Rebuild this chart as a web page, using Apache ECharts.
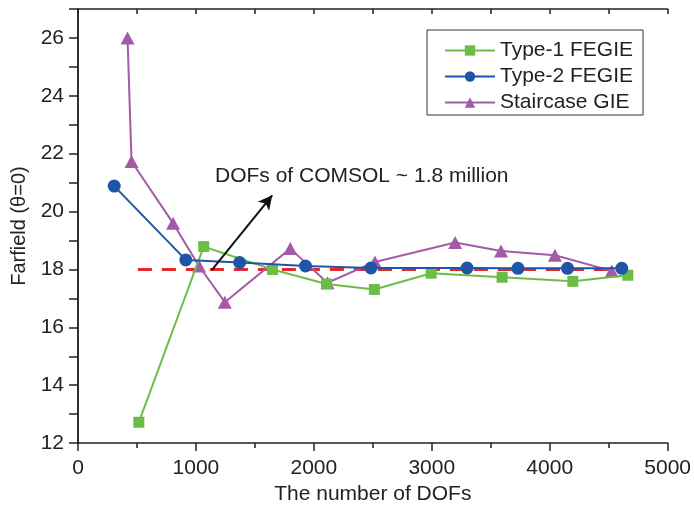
<!DOCTYPE html>
<html>
<head>
<meta charset="utf-8">
<script src="https://cdn.jsdelivr.net/npm/echarts@6/dist/echarts.min.js"></script>
<style>
  html, body { margin: 0; padding: 0; background: #fff; }
  #main { width: 694px; height: 510px; }
</style>
</head>
<body>
<div id="main"></div>
<script>
// Type-1 FEGIE
var type1X = [516, 1066, 1650, 2107, 2513, 2995, 3596, 4196, 4662];
var type1Y = [12.72, 18.79, 18.0, 17.5, 17.31, 17.87, 17.73, 17.59, 17.8];
// Type-2 FEGIE
var type2X = [307, 914, 1371, 1929, 2484, 3299, 3731, 4151, 4611];
var type2Y = [20.88, 18.33, 18.24, 18.12, 18.05, 18.05, 18.04, 18.04, 18.04];
// Staircase GIE
var stairX = [420, 454, 806, 1026, 1245, 1800, 2115, 2518, 3198, 3587, 4044, 4526];
var stairY = [26.0, 21.73, 19.6, 18.12, 16.87, 18.72, 17.54, 18.26, 18.93, 18.64, 18.49, 17.95];
// COMSOL reference
var refX = [508, 4645];
var refY = [18, 18];
var arrowFrom = [1134, 17.98];
var arrowTo = [1647, 20.56];

function pairs(xs, ys) {
    return xs.map(function (x, i) { return [x, ys[i]]; });
}

var font = 'Liberation Sans, Arial, sans-serif';
var ink = '#222';
var myChart = echarts.init(document.getElementById('main'));

myChart.setOption({
    animation: false,
    textStyle: { fontFamily: font },
    grid: { left: 78, right: 24, top: 9, bottom: 66 },
    legend: {
        orient: 'vertical',
        left: 427,
        top: 30,
        itemWidth: 50,
        itemHeight: 13,
        itemGap: 5,
        padding: [10, 10, 2, 17],
        borderColor: '#333',
        borderWidth: 1,
        textStyle: { fontSize: 21, color: ink, fontFamily: font },
        data: ['Type-1 FEGIE', 'Type-2 FEGIE', 'Staircase GIE']
    },
    xAxis: [{
        type: 'value',
        min: 0, max: 5000, interval: 1000,
        name: 'The number of DOFs',
        nameLocation: 'middle',
        nameGap: 37,
        nameTextStyle: { fontSize: 21, color: ink },
        axisLine: { lineStyle: { color: ink, width: 1.5 } },
        axisTick: { inside: false, length: 8, lineStyle: { color: ink, width: 1.5 } },
        minorTick: { show: true, splitNumber: 2, length: 5, lineStyle: { color: ink, width: 1.5 } },
        axisLabel: { fontSize: 21, color: ink, margin: 15, formatter: function (v) { return String(v); } },
        splitLine: { show: false }
    }, {
        type: 'value',
        position: 'top',
        min: 0, max: 5000, interval: 1000,
        axisLine: { lineStyle: { color: ink, width: 1.5 } },
        axisTick: { inside: true, length: 5, lineStyle: { color: ink, width: 1.5 } },
        minorTick: { show: true, splitNumber: 2, length: 5, lineStyle: { color: ink, width: 1.5 } },
        axisLabel: { show: false },
        splitLine: { show: false }
    }],
    yAxis: [{
        type: 'value',
        min: 12, max: 27, interval: 2,
        name: 'Farfield (\u03b8=0)',
        nameLocation: 'middle',
        nameGap: 45,
        nameTextStyle: { fontSize: 20, color: ink },
        axisLine: { lineStyle: { color: ink, width: 1.5 } },
        axisTick: { inside: false, length: 9, lineStyle: { color: ink, width: 1.5 } },
        minorTick: { show: true, splitNumber: 2, length: 5, lineStyle: { color: ink, width: 1.5 } },
        axisLabel: { fontSize: 21, color: ink, margin: 14, showMaxLabel: false },
        splitLine: { show: false }
    }, {
        type: 'value',
        position: 'right',
        min: 12, max: 27, interval: 1,
        axisLine: { lineStyle: { color: ink, width: 1.5 } },
        axisTick: { inside: true, length: 9, lineStyle: { color: ink, width: 1.5 } },
        axisLabel: { show: false },
        splitLine: { show: false }
    }],
    graphic: [{
        type: 'text',
        left: 215,
        top: 166,
        style: { text: 'DOFs of COMSOL ~ 1.8 million', fontSize: 21, fill: ink, fontFamily: font }
    }],
    series: [{
        name: 'COMSOL',
        type: 'line',
        z: 1,
        symbol: 'none',
        data: pairs(refX, refY),
        lineStyle: { color: '#e8262a', width: 3, type: [14, 10] }
    }, {
        name: 'arrow',
        type: 'line',
        z: 5,
        symbol: 'none',
        data: [],
        markLine: {
            silent: true,
            symbol: ['none', 'arrow'],
            symbolSize: [11, 14],
            label: { show: false },
            lineStyle: { color: '#111', width: 2, type: 'solid' },
            data: [[{ coord: arrowFrom }, { coord: arrowTo }]]
        }
    }, {
        name: 'Type-1 FEGIE',
        type: 'line',
        z: 3,
        symbol: 'rect',
        symbolSize: 11,
        data: pairs(type1X, type1Y),
        itemStyle: { color: '#6cbd45' },
        lineStyle: { color: '#6cbd45', width: 2 }
    }, {
        name: 'Type-2 FEGIE',
        type: 'line',
        z: 4,
        symbol: 'circle',
        symbolSize: 13,
        data: pairs(type2X, type2Y),
        itemStyle: { color: '#1f55a6' },
        lineStyle: { color: '#1f55a6', width: 2 }
    }, {
        name: 'Staircase GIE',
        type: 'line',
        z: 2,
        symbol: 'triangle',
        symbolSize: [14, 13],
        data: pairs(stairX, stairY),
        itemStyle: { color: '#a35ba9' },
        lineStyle: { color: '#a35ba9', width: 2 }
    }]
});
</script>
</body>
</html>
